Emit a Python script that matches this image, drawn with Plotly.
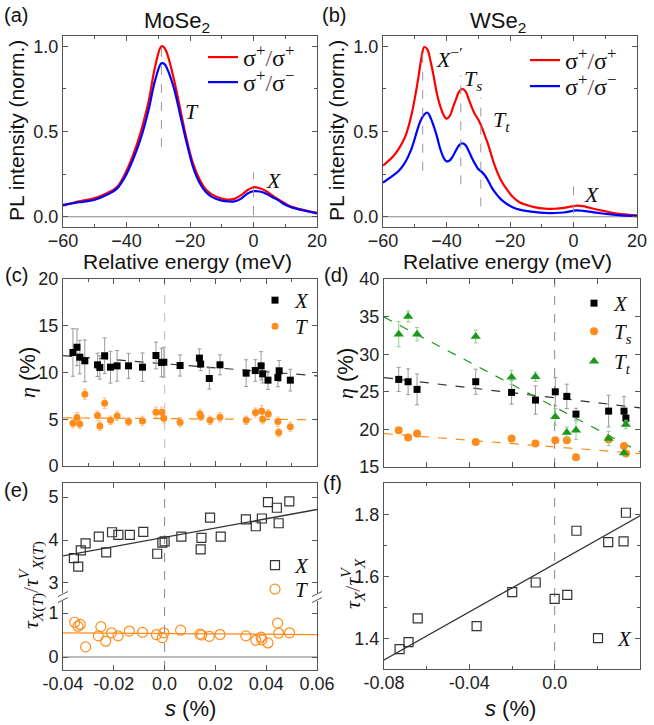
import plotly.graph_objects as go

W, H = 654, 725

# ---------------- data ----------------
# (a) MoSe2 spectra
E_a = [-60, -55, -50, -46, -43, -40, -37, -35, -33, -31, -29, -28, -27, -25, -23, -21, -19, -17, -15, -13,
       -10, -8, -6, -4, -2, 0, 2, 4, 6, 8, 10, 12, 15, 18, 20]
red_a = [0.065, 0.09, 0.11, 0.14, 0.175, 0.27, 0.41, 0.53, 0.68, 0.88, 1.0, 0.99, 0.945, 0.80, 0.625, 0.45,
         0.31, 0.22, 0.16, 0.13, 0.107, 0.10, 0.105, 0.125, 0.155, 0.173, 0.167, 0.15, 0.124, 0.10, 0.078,
         0.058, 0.043, 0.03, 0.023]
blue_a = [0.07, 0.085, 0.10, 0.13, 0.165, 0.25, 0.38, 0.49, 0.63, 0.80, 0.90, 0.895, 0.86, 0.75, 0.59, 0.43,
          0.29, 0.20, 0.145, 0.115, 0.095, 0.09, 0.09, 0.105, 0.135, 0.15, 0.148, 0.135, 0.115, 0.095, 0.07,
          0.055, 0.04, 0.028, 0.02]

# (b) WSe2 spectra
E_b = [-60, -57, -55, -53, -51, -49, -48, -47, -46, -45, -44, -43, -42, -41, -40, -39, -38, -37, -36, -35,
       -34, -33, -32, -31, -30, -29, -28, -27, -26, -25, -23, -21, -19, -17, -15, -12, -9, -6, -3, -1, 0, 1,
       3, 5, 8, 11, 15, 20]
red_b = [0.30, 0.35, 0.40, 0.47, 0.60, 0.80, 0.92, 0.995, 0.98, 0.91, 0.82, 0.72, 0.65, 0.60, 0.575, 0.59,
         0.64, 0.69, 0.735, 0.75, 0.735, 0.69, 0.64, 0.60, 0.57, 0.53, 0.48, 0.43, 0.37, 0.31, 0.22, 0.16,
         0.115, 0.085, 0.07, 0.055, 0.048, 0.047, 0.052, 0.06, 0.062, 0.065, 0.062, 0.053, 0.04, 0.028,
         0.015, 0.008]
blue_b = [0.20, 0.24, 0.27, 0.32, 0.40, 0.52, 0.57, 0.60, 0.61, 0.58, 0.53, 0.47, 0.40, 0.35, 0.325, 0.33,
          0.355, 0.39, 0.42, 0.43, 0.42, 0.385, 0.345, 0.31, 0.28, 0.265, 0.245, 0.215, 0.18, 0.15, 0.105,
          0.075, 0.055, 0.042, 0.035, 0.027, 0.023, 0.022, 0.025, 0.032, 0.036, 0.038, 0.035, 0.03, 0.022,
          0.015, 0.008, 0.004]

# (c) MoSe2 valley polarization vs strain
s_cX = [-0.0361, -0.0345, -0.0334, -0.0314, -0.0264, -0.0255, -0.0236, -0.0213, -0.0187, -0.0142, -0.0087,
        -0.0034, -0.0012, -0.0003, 0.0061, 0.0137, 0.0142, 0.0176, 0.0218, 0.0321, 0.0357, 0.0380, 0.0386,
        0.0407, 0.0446, 0.0451, 0.0495]
eta_cX = [12.14, 12.7, 11.64, 11.25, 10.82, 10.54, 11.79, 10.57, 10.71, 10.71, 10.57, 11.82, 11.07, 11.1,
          10.75, 11.54, 10.9, 9.36, 10.82, 9.93, 10.21, 10.71, 9.86, 9.18, 9.46, 10.18, 9.18]
err_cX = [2.54, 1.96, 1.79, 2.23, 1.25, 1.25, 1.91, 1.70, 1.64, 1.34, 1.52, 1.43, 1.52, 1.6, 1.13, 0.98,
          0.71, 1.13, 1.07, 1.43, 1.16, 1.52, 0.98, 0.98, 0.98, 1.11, 1.16]
s_cT = [-0.0361, -0.0345, -0.0334, -0.0314, -0.0264, -0.0255, -0.0236, -0.0213, -0.0187, -0.0142, -0.0087,
        -0.0034, -0.0011, -0.0003, 0.0061, 0.0139, 0.0143, 0.0179, 0.0218, 0.0321, 0.0358, 0.0382, 0.0386,
        0.0408, 0.0446, 0.0449, 0.0495]
eta_cT = [4.57, 5.18, 4.5, 7.68, 5.39, 4.29, 6.71, 4.89, 5.36, 4.75, 4.82, 5.75, 5.75, 5.11, 4.68, 5.57,
          5.29, 4.89, 5.21, 4.89, 5.71, 5.89, 5.0, 5.57, 4.75, 3.57, 4.21]
err_cT = [0.5, 0.55, 0.5, 0.55, 0.5, 0.5, 0.55, 0.45, 0.5, 0.45, 0.5, 0.55, 0.55, 0.5, 0.5, 0.5, 0.45,
          0.45, 0.5, 0.45, 0.5, 0.6, 0.5, 0.45, 0.5, 0.45, 0.5]
fit_s_c = [-0.04, 0.06]
fit_cX = [11.8, 9.64]
fit_cT = [5.15, 4.95]

# (d) WSe2 valley polarization vs strain
s_d = [-0.0731, -0.0687, -0.0645, -0.037, -0.0202, -0.009, 0.0003, 0.0057, 0.010, 0.0253, 0.0325, 0.0334]
eta_dX = [26.65, 26.34, 25.32, 26.34, 24.92, 23.9, 25.0, 24.39, 22.03, 22.43, 22.43, 21.5]
err_dX = [1.6, 1.71, 2.05, 1.67, 1.56, 1.89, 1.89, 1.62, 0.78, 2.11, 1.96, 0.89]
eta_dTs = [19.89, 18.91, 19.45, 18.34, 18.78, 18.11, 18.56, 18.56, 16.29, 18.65, 17.8, 16.78]
err_dTs = [0.3, 0.3, 0.3, 0.25, 0.4, 0.3, 0.3, 0.3, 0.3, 0.3, 0.3, 0.3]
eta_dTt = [32.66, 35.02, 32.66, 32.35, 26.92, 27.0, 21.67, 19.58, 19.89, 18.78, 16.87, 20.65]
err_dTt = [1.67, 0.73, 0.89, 0.84, 0.93, 0.62, 1.11, 0.73, 1.22, 0.96, 0.3, 0.56]
fit_s_d = [-0.08, 0.04]
fit_dX = [26.88, 22.87]
fit_dTs = [19.45, 16.78]
fit_dTt = [34.93, 17.0]

# (e) MoSe2 lifetime ratios
s_eX = [-0.0357, -0.034, -0.033, -0.0311, -0.0259, -0.023, -0.0207, -0.0182, -0.0137, -0.0084, -0.0029,
        -0.0009, 0.0, 0.0066, 0.0142, 0.0145, 0.0179, 0.0221, 0.032, 0.0359, 0.0383, 0.0407, 0.0442, 0.0449,
        0.0491]
tau_eX = [3.58, 3.38, 3.76, 3.92, 4.08, 3.71, 4.18, 4.12, 4.12, 4.19, 3.68, 3.94, 3.97, 4.08, 3.78, 4.05,
          4.52, 4.08, 4.48, 4.32, 4.50, 4.88, 4.75, 4.39, 4.9]
s_eT = [-0.0354, -0.0341, -0.0332, -0.0311, -0.0261, -0.0251, -0.0232, -0.0209, -0.0183, -0.0139, -0.0087,
        -0.0032, -0.0009, -0.0003, 0.0063, 0.0139, 0.0146, 0.0176, 0.0218, 0.032, 0.0359, 0.038, 0.0383,
        0.0407, 0.0445, 0.0449, 0.0492]
tau_eT = [0.79, 0.70, 0.74, 0.23, 0.48, 0.69, 0.36, 0.55, 0.48, 0.59, 0.56, 0.51, 0.44, 0.55, 0.61, 0.52,
          0.50, 0.47, 0.51, 0.48, 0.38, 0.45, 0.39, 0.32, 0.77, 0.54, 0.55]
fit_s_e = [-0.04, 0.06]
fit_eX = [3.63, 4.71]
fit_eT = [0.55, 0.51]
zero_e = [0, 0]

# (f) WSe2 lifetime ratio
s_f = [-0.0727, -0.0685, -0.0642, -0.0366, -0.0199, -0.0089, 0.0, 0.0059, 0.0102, 0.0251, 0.0323, 0.0334]
tau_f = [1.367, 1.390, 1.466, 1.441, 1.551, 1.582, 1.529, 1.542, 1.749, 1.712, 1.715, 1.807]
fit_s_f = [-0.08, 0.04]
fit_f = [1.332, 1.797]

# peak markers in (a),(b): energy, bottom, top
peaks_a = [(-29, 0.41, 1.0), (0, 0.01, 0.26)]
peaks_b = [(-47.5, 0.27, 1.0), (-35.5, 0.19, 0.83), (-29.2, 0.06, 0.70), (0, 0.02, 0.20)]

# ---------------- style ----------------
RED, BLUE = "#ff0000", "#0000ff"
ORANGE, GREEN = "#ff8c1a", "#1a9a1a"
SANS = "Arial, Liberation Sans, sans-serif"
SERIF = "Liberation Serif, Times New Roman, serif"
TICKF = dict(family=SANS, size=18, color="#222")
FRAME = "#555"
SLASH = '<span style="color:#7a5050">/</span>'


def px(x):
    return x / W


def py(y):
    return 1 - y / H


def sig(sign):
    return 'σ<sup>+</sup>%sσ<sup>%s</sup>' % (SLASH, sign)


def it(t):
    return '<i>%s</i>' % t


fig = go.Figure()

# (a)
fig.add_trace(go.Scatter(x=E_a, y=red_a, mode="lines", line=dict(color=RED, width=2.2, shape="spline"),
                         name=sig("+"), xaxis="x", yaxis="y", legend="legend"))
fig.add_trace(go.Scatter(x=E_a, y=blue_a, mode="lines", line=dict(color=BLUE, width=2.2, shape="spline"),
                         name=sig("−"), xaxis="x", yaxis="y", legend="legend2"))
# (b)
fig.add_trace(go.Scatter(x=E_b, y=red_b, mode="lines", line=dict(color=RED, width=2.2, shape="spline"),
                         name=sig("+"), xaxis="x2", yaxis="y2", legend="legend3"))
fig.add_trace(go.Scatter(x=E_b, y=blue_b, mode="lines", line=dict(color=BLUE, width=2.2, shape="spline"),
                         name=sig("−"), xaxis="x2", yaxis="y2", legend="legend4"))

# (c)
fig.add_trace(go.Scatter(x=fit_s_c, y=fit_cX, mode="lines", line=dict(color="#333", width=1.2, dash="dash"),
                         showlegend=False, xaxis="x3", yaxis="y3"))
fig.add_trace(go.Scatter(x=fit_s_c, y=fit_cT, mode="lines", line=dict(color=ORANGE, width=1.2, dash="dash"),
                         showlegend=False, xaxis="x3", yaxis="y3"))
fig.add_trace(go.Scatter(x=s_cX, y=eta_cX, mode="markers", name=it("X"),
                         marker=dict(symbol="square", size=7, color="black"),
                         error_y=dict(type="data", array=err_cX, color="#999", thickness=1, width=2),
                         xaxis="x3", yaxis="y3", legend="legend5"))
fig.add_trace(go.Scatter(x=s_cT, y=eta_cT, mode="markers", name=it("T"),
                         marker=dict(symbol="circle", size=7, color=ORANGE),
                         error_y=dict(type="data", array=err_cT, color="#f7c08a", thickness=1, width=2),
                         xaxis="x3", yaxis="y3", legend="legend6"))

# (d)
for fy, col in [(fit_dX, "#333"), (fit_dTs, ORANGE), (fit_dTt, GREEN)]:
    fig.add_trace(go.Scatter(x=fit_s_d, y=fy, mode="lines", line=dict(color=col, width=1.2, dash="dash"),
                             showlegend=False, xaxis="x4", yaxis="y4"))
fig.add_trace(go.Scatter(x=s_d, y=eta_dX, mode="markers", name=it("X"),
                         marker=dict(symbol="square", size=7, color="black"),
                         error_y=dict(type="data", array=err_dX, color="#999", thickness=1, width=2),
                         xaxis="x4", yaxis="y4", legend="legend7"))
fig.add_trace(go.Scatter(x=s_d, y=eta_dTs, mode="markers", name=it("T<sub>s</sub>"),
                         marker=dict(symbol="circle", size=8, color=ORANGE),
                         error_y=dict(type="data", array=err_dTs, color="#f7c08a", thickness=1, width=2),
                         xaxis="x4", yaxis="y4", legend="legend8"))
fig.add_trace(go.Scatter(x=s_d, y=eta_dTt, mode="markers", name=it("T<sub>t</sub>"),
                         marker=dict(symbol="triangle-up", size=9, color=GREEN),
                         error_y=dict(type="data", array=err_dTt, color="#8fcf8f", thickness=1, width=2),
                         xaxis="x4", yaxis="y4", legend="legend9"))

# (e)
fig.add_trace(go.Scatter(x=fit_s_e, y=fit_eX, mode="lines", line=dict(color="#333", width=1.3),
                         showlegend=False, xaxis="x5", yaxis="y5"))
fig.add_trace(go.Scatter(x=fit_s_e, y=zero_e, mode="lines", line=dict(color="#bbb", width=2),
                         showlegend=False, xaxis="x6", yaxis="y6"))
fig.add_trace(go.Scatter(x=fit_s_e, y=fit_eT, mode="lines", line=dict(color=ORANGE, width=1.3),
                         showlegend=False, xaxis="x6", yaxis="y6"))
fig.add_trace(go.Scatter(x=s_eX, y=tau_eX, mode="markers", name=it("X"),
                         marker=dict(symbol="square-open", size=9, color="#333", line=dict(width=1.2)),
                         xaxis="x5", yaxis="y5", legend="legend10"))
fig.add_trace(go.Scatter(x=s_eT, y=tau_eT, mode="markers", name=it("T"),
                         marker=dict(symbol="circle-open", size=10, color=ORANGE, line=dict(width=1.2)),
                         xaxis="x6", yaxis="y6", legend="legend11"))

# (f)
fig.add_trace(go.Scatter(x=fit_s_f, y=fit_f, mode="lines", line=dict(color="#333", width=1.3),
                         showlegend=False, xaxis="x7", yaxis="y7"))
fig.add_trace(go.Scatter(x=s_f, y=tau_f, mode="markers", name=it("X"),
                         marker=dict(symbol="square-open", size=9, color="#333", line=dict(width=1.2)),
                         xaxis="x7", yaxis="y7", legend="legend12"))


def ax(domain, rng, anchor, letter="y", **kw):
    d = dict(domain=domain, range=rng, anchor=anchor, showline=True, linecolor=FRAME, linewidth=1,
             mirror="allticks", ticks="inside", ticklen=5, tickcolor=FRAME, tickfont=TICKF,
             showgrid=False, zeroline=False, fixedrange=True, automargin=False)
    if letter == "x":
        d["ticklabelstandoff"] = -3
    d.update(kw)
    return d


minor = lambda dt: dict(ticks="inside", ticklen=3, dtick=dt, tickcolor=FRAME, showgrid=False)

xa = [px(63), px(317)]
xb = [px(383), px(637)]
xd = [px(384), px(640)]
stick = dict(tickvals=[-0.04, -0.02, 0.0, 0.02, 0.04, 0.06], ticktext=["-0.04", "-0.02", "0.0", "0.02", "0.04", "0.06"])
ftick = dict(tickvals=[-0.08, -0.04, 0.0, 0.04], ticktext=["-0.08", "-0.04", "0.0", "0.04"])

fig.update_layout(
    xaxis=ax(xa, [-60, 20], "y", "x", dtick=20, minor=minor(10)),
    yaxis=ax([py(227), py(36)], [-0.06, 1.06], "x", tickvals=[0, 0.5, 1], ticktext=["0.0", "0.5", "1.0"],
             minor=minor(0.25)),
    xaxis2=ax(xb, [-60, 20], "y2", "x", dtick=20, minor=minor(10)),
    yaxis2=ax([py(227), py(36)], [-0.06, 1.06], "x2", tickvals=[0, 0.5, 1], ticktext=["0.0", "0.5", "1.0"],
              minor=minor(0.25)),
    xaxis3=ax(xa, [-0.04, 0.06], "y3", "x", dtick=0.02, showticklabels=False, minor=minor(0.01)),
    yaxis3=ax([py(466), py(279)], [0, 20], "x3", dtick=5),
    xaxis4=ax(xd, [-0.08, 0.04], "y4", "x", dtick=0.02, showticklabels=False),
    yaxis4=ax([py(467), py(279)], [15, 40], "x4", dtick=5),
    xaxis5=ax(xa, [-0.04, 0.06], "y5", "x", side="top", mirror=False, showticklabels=False, matches="x6",
              dtick=0.02),
    yaxis5=ax([py(593), py(483)], [2.767, 5.326], "x5", tickvals=[3, 4, 5]),
    xaxis6=ax(xa, [-0.04, 0.06], "y6", "x", mirror=False, **stick),
    yaxis6=ax([py(670), py(601)], [-0.295, 1.273], "x6", tickvals=[0, 1]),
    xaxis7=ax(xd, [-0.08, 0.04], "y7", "x", minor=minor(0.02), **ftick),
    yaxis7=ax([py(669), py(483)], [1.303, 1.903], "x7", tickvals=[1.4, 1.6, 1.8], ticktext=["1.4", "1.6", "1.8"],
              minor=minor(0.1)),
)


def leg(x, y, size=21):
    return dict(x=px(x), y=py(y), xanchor="left", yanchor="top", bgcolor="rgba(0,0,0,0)", borderwidth=0,
                font=dict(family=SERIF, size=size, color="#111"), itemclick=False, itemdoubleclick=False)


# legend entries: (left edge, top edge) in window pixels
fig.update_layout(
    legend=leg(203, 35, 24), legend2=leg(203, 60, 24),
    legend3=leg(525, 38, 24), legend4=leg(525, 64, 24),
    legend5=leg(255, 280), legend6=leg(255, 306),
    legend7=leg(574, 283), legend8=leg(574, 311), legend9=leg(574, 341),
    legend10=leg(255, 545), legend11=leg(255, 569),
    legend12=leg(578, 618),
)

shapes = []
for e, lo, hi in peaks_a:
    shapes.append(dict(type="line", xref="x", yref="y", x0=e, x1=e, y0=lo, y1=hi,
                       line=dict(color="#999", width=1, dash="dash")))
for e, lo, hi in peaks_b:
    shapes.append(dict(type="line", xref="x2", yref="y2", x0=e, x1=e, y0=lo, y1=hi,
                       line=dict(color="#999", width=1, dash="dash")))
for xr, yr in [("x", "y"), ("x2", "y2")]:
    shapes.append(dict(type="line", xref=xr + " domain", yref=yr, x0=0, x1=1, y0=0, y1=0,
                       line=dict(color="#888", width=1), layer="below"))
shapes.append(dict(type="line", xref="x3", yref="y3 domain", x0=0, x1=0, y0=0, y1=1,
                   line=dict(color="#c8c8c8", width=1.2, dash="dash"), layer="below"))
shapes.append(dict(type="line", xref="x4", yref="y4 domain", x0=0, x1=0, y0=0, y1=1,
                   line=dict(color="#888", width=1, dash="dash"), layer="below"))
shapes.append(dict(type="line", xref="x6", yref="paper", x0=0, x1=0, y0=py(670), y1=py(483),
                   line=dict(color="#888", width=1, dash="dash"), layer="below"))
shapes.append(dict(type="line", xref="x7", yref="y7 domain", x0=0, x1=0, y0=0, y1=1,
                   line=dict(color="#888", width=1, dash="dash"), layer="below"))
for xb0 in (63, 317):
    for yb in (594, 600):
        shapes.append(dict(type="line", xref="paper", yref="paper", x0=px(xb0 - 5), x1=px(xb0 + 5),
                           y0=py(yb + 2.5), y1=py(yb - 2.5), line=dict(color=FRAME, width=1)))
fig.update_layout(shapes=shapes)

ann = []


def A(text, x, y, xref="paper", yref="paper", size=20, family=SANS, angle=0, xanchor="center",
      yanchor="middle", color="#111"):
    ann.append(dict(text=text, x=x, y=y, xref=xref, yref=yref, showarrow=False, textangle=angle,
                    font=dict(family=family, size=size, color=color), xanchor=xanchor, yanchor=yanchor))


for lab, x, y in [("(a)", 16, 15), ("(b)", 334, 15), ("(c)", 16, 275), ("(d)", 336, 275), ("(e)", 16, 490),
                  ("(f)", 333, 483)]:
    A(lab, px(x), py(y), size=20)
A("MoSe<sub>2</sub>", px(177), py(22), size=22)
A("WSe<sub>2</sub>", px(498), py(22), size=22)
A("Relative energy (meV)", px(187), py(261), size=21)
A("Relative energy (meV)", px(507), py(261), size=21)
A("<i>s</i> (%)", px(190), py(708), size=22)
A("<i>s</i> (%)", px(510), py(708), size=22)
A("PL intensity (norm.)", px(17), py(131), size=21, angle=-90)
A("PL intensity (norm.)", px(337), py(131), size=21, angle=-90)
eta = '<span style="font-family:Liberation Serif"><i>η</i></span> (%)'
A(eta, px(27), py(373), size=22, angle=-90)
A(eta, px(345), py(373), size=22, angle=-90)
A("<i>τ</i><sub><i>X</i>(<i>T</i>)</sub>" + SLASH + "<i>τ</i><sup><i>V</i></sup><sub><i>X</i>(<i>T</i>)</sub>",
  px(31), py(585), size=22, family=SERIF, angle=-90)
A("<i>τ</i><sub><i>X</i></sub>" + SLASH + "<i>τ</i><sup><i>V</i></sup><sub><i>X</i></sub>",
  px(352), py(583), size=22, family=SERIF, angle=-90)
A("<i>T</i>", -19.5, 0.615, "x", "y", size=22, family=SERIF)
A("<i>X</i>", 6.3, 0.21, "x", "y", size=22, family=SERIF)
A("<i>X</i><sup>−′</sup>", -39, 0.93, "x2", "y2", size=22, family=SERIF)
A("<i>T<sub>s</sub></i>", -31.6, 0.80, "x2", "y2", size=22, family=SERIF)
A("<i>T<sub>t</sub></i>", -22.6, 0.56, "x2", "y2", size=22, family=SERIF)
A("<i>X</i>", 5.8, 0.13, "x2", "y2", size=22, family=SERIF)
fig.update_layout(annotations=ann)

fig.update_layout(width=W, height=H, margin=dict(l=0, r=0, t=0, b=0, autoexpand=False),
                  plot_bgcolor="white", paper_bgcolor="white", font=dict(family=SANS, color="#111"))
# place the figure at the top-left corner of the window (no default page margin), no modebar
fig.write_html("out.html", config={"displayModeBar": False, "staticPlot": True},
               post_script="document.body.style.margin='0px';")
